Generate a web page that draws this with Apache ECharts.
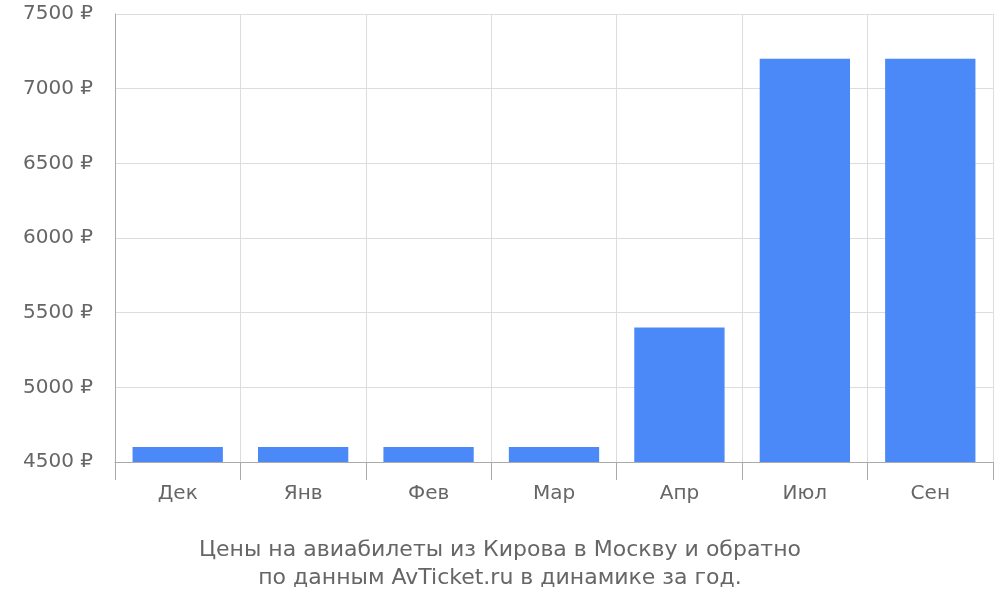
<!DOCTYPE html>
<html><head><meta charset="utf-8">
<script src="https://cdn.jsdelivr.net/npm/echarts@6/dist/echarts.min.js"></script>
<style>html,body{margin:0;padding:0;background:#fff}#c{width:1000px;height:600px}</style>
</head><body><div id="c"></div>
<script>
const categories = ['Дек','Янв','Фев','Мар','Апр','Июл','Сен'];
const prices = [4600,4600,4600,4600,5400,7200,7200];
const titleLines = ['Цены на авиабилеты из Кирова в Москву и обратно','по данным AvTicket.ru в динамике за год.'];
const chart = echarts.init(document.getElementById('c'));
chart.setOption({
  animation:false,
  textStyle:{fontFamily:'DejaVu Sans'},
  title:{text:titleLines.join('\n'),left:'center',top:531,textStyle:{fontSize:22,fontWeight:'normal',color:'#666',lineHeight:28,fontFamily:'DejaVu Sans'}},
  grid:{left:115,right:7,top:14,bottom:138},
  xAxis:{type:'category',data:categories,
    axisLine:{lineStyle:{color:'#aaa'}},
    axisTick:{show:true,length:18,lineStyle:{color:'#aaa'}},
    axisLabel:{fontSize:20,color:'#666',margin:22},
    splitLine:{show:true,lineStyle:{color:'#ddd'}}},
  yAxis:{type:'value',min:4500,max:7500,interval:500,
    axisLine:{show:true,lineStyle:{color:'#aaa'}},
    axisTick:{show:false},
    axisLabel:{fontSize:20,color:'#666',margin:22,formatter:v=>v+' ₽'},
    splitLine:{lineStyle:{color:'#ddd'}}},
  series:[{type:'bar',data:prices,barWidth:'72%',itemStyle:{color:'#4a89f7'}}]
});
</script></body></html>
